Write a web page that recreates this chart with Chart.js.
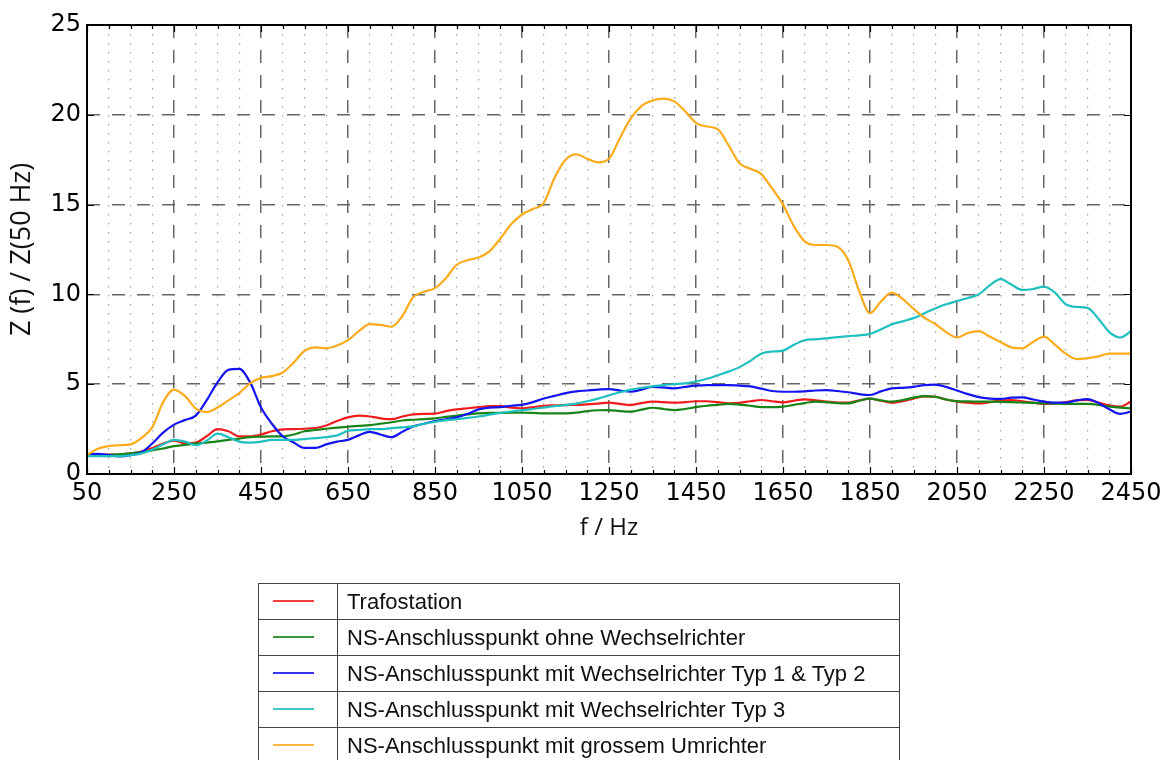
<!DOCTYPE html>
<html>
<head>
<meta charset="utf-8">
<title>Z(f) / Z(50 Hz)</title>
<script src="https://cdn.jsdelivr.net/npm/chart.js@4.4.1/dist/chart.umd.min.js"></script>
<style>
  html, body { margin: 0; padding: 0; background: #fff; }
  #wrap { position: relative; width: 1161px; height: 760px; overflow: hidden; }
  #chart { position: absolute; left: 0; top: 0; }
  #legend {
    position: absolute; left: 258px; top: 583px;
    border-collapse: collapse;
    font-family: "Liberation Sans", Arial, sans-serif; font-size: 22px; color: #111;
  }
  #legend td { border: 1px solid #444; height: 35px; padding: 0; }
  #legend td.key { width: 78px; position: relative; }
  #legend td.key span {
    position: absolute; left: 14px; top: 50%; width: 41px; height: 2.5px; margin-top: -2px; opacity: 0.85;
  }
  #legend td.name { width: 552px; padding-left: 9px; white-space: nowrap; }
</style>
</head>
<body>
<div id="wrap">
  <canvas id="chart" width="1161" height="760"></canvas>
  <table id="legend"><tbody></tbody></table>
</div>
<script>
// Frequency grid of the measurement (Hz)
const freqHz = [
  50, 75, 100, 125, 150, 175, 200, 225, 250, 275, 300, 325, 350, 375, 400, 425, 450, 475, 500, 525,
  550, 575, 600, 625, 650, 675, 700, 725, 750, 775, 800, 825, 850, 875, 900, 925, 950, 975, 1000, 1025,
  1050, 1075, 1100, 1125, 1150, 1175, 1200, 1225, 1250, 1275, 1300, 1325, 1350, 1375, 1400, 1425, 1450, 1475, 1500, 1525,
  1550, 1575, 1600, 1625, 1650, 1675, 1700, 1725, 1750, 1775, 1800, 1825, 1850, 1875, 1900, 1925, 1950, 1975, 2000, 2025,
  2050, 2075, 2100, 2125, 2150, 2175, 2200, 2225, 2250, 2275, 2300, 2325, 2350, 2375, 2400, 2425, 2450
];

// Normalised impedance Z(f)/Z(50 Hz) per measuring point
const trafostation = [
  1.05, 1.07, 1.08, 1.10, 1.15, 1.25, 1.45, 1.70, 1.85, 1.72, 1.75, 2.10, 2.50, 2.38, 2.10, 2.10, 2.20, 2.38, 2.48, 2.50,
  2.52, 2.56, 2.70, 2.95, 3.15, 3.25, 3.20, 3.10, 3.05, 3.20, 3.32, 3.35, 3.36, 3.50, 3.60, 3.66, 3.72, 3.78, 3.78, 3.70,
  3.66, 3.72, 3.80, 3.82, 3.84, 3.85, 3.88, 3.92, 3.97, 3.90, 3.84, 3.95, 4.03, 4.00, 3.97, 4.00, 4.05, 4.05, 4.00, 3.94,
  3.96, 4.05, 4.12, 4.05, 3.99, 4.08, 4.16, 4.10, 4.03, 3.98, 3.97, 4.10, 4.20, 4.08, 3.97, 4.05, 4.20, 4.32, 4.30, 4.15,
  4.03, 3.97, 3.93, 4.00, 4.10, 4.12, 4.05, 3.97, 3.90, 3.92, 4.00, 4.10, 4.12, 3.98, 3.82, 3.75, 4.03
];
const ohneWechselrichter = [
  1.05, 1.05, 1.07, 1.10, 1.15, 1.22, 1.32, 1.42, 1.55, 1.62, 1.70, 1.75, 1.82, 1.90, 1.97, 2.05, 2.08, 2.10, 2.10, 2.20,
  2.38, 2.45, 2.52, 2.58, 2.63, 2.68, 2.72, 2.80, 2.88, 2.98, 3.02, 3.06, 3.10, 3.18, 3.25, 3.32, 3.38, 3.40, 3.40, 3.41,
  3.41, 3.40, 3.38, 3.38, 3.38, 3.42, 3.50, 3.55, 3.56, 3.50, 3.47, 3.58, 3.69, 3.62, 3.56, 3.62, 3.72, 3.80, 3.85, 3.90,
  3.86, 3.80, 3.72, 3.72, 3.75, 3.85, 3.95, 4.03, 4.00, 3.95, 3.93, 4.08, 4.20, 4.10, 4.03, 4.12, 4.25, 4.34, 4.30, 4.15,
  4.06, 4.04, 4.03, 4.03, 4.02, 4.00, 3.98, 3.96, 3.93, 3.92, 3.90, 3.90, 3.90, 3.85, 3.75, 3.70, 3.66
];
const wechselrichterTyp12 = [
  1.10, 1.12, 1.05, 0.98, 1.05, 1.20, 1.70, 2.30, 2.75, 3.00, 3.25, 4.10, 5.10, 5.80, 5.85, 5.10, 3.70, 2.80, 2.10, 1.75,
  1.45, 1.45, 1.65, 1.80, 1.90, 2.15, 2.35, 2.20, 2.05, 2.35, 2.65, 2.80, 2.95, 3.05, 3.15, 3.35, 3.60, 3.70, 3.72, 3.80,
  3.85, 4.00, 4.20, 4.35, 4.50, 4.60, 4.65, 4.70, 4.73, 4.65, 4.58, 4.70, 4.85, 4.82, 4.77, 4.85, 4.92, 4.95, 4.95, 4.95,
  4.92, 4.88, 4.75, 4.62, 4.58, 4.58, 4.60, 4.65, 4.67, 4.62, 4.55, 4.45, 4.40, 4.60, 4.77, 4.80, 4.85, 4.95, 4.98, 4.85,
  4.65, 4.45, 4.28, 4.20, 4.18, 4.25, 4.27, 4.15, 4.03, 3.97, 3.97, 4.10, 4.17, 3.95, 3.60, 3.35, 3.47
];
const wechselrichterTyp3 = [
  1.00, 1.00, 1.00, 1.00, 1.05, 1.15, 1.35, 1.65, 1.90, 1.80, 1.60, 1.85, 2.25, 2.05, 1.80, 1.75, 1.80, 1.90, 1.90, 1.90,
  1.95, 2.00, 2.05, 2.15, 2.40, 2.45, 2.50, 2.50, 2.55, 2.60, 2.65, 2.80, 2.90, 3.00, 3.05, 3.12, 3.20, 3.30, 3.40, 3.48,
  3.55, 3.62, 3.70, 3.78, 3.84, 3.92, 4.05, 4.20, 4.38, 4.55, 4.70, 4.80, 4.88, 4.95, 5.00, 5.05, 5.15, 5.30, 5.50, 5.70,
  5.95, 6.30, 6.70, 6.82, 6.87, 7.20, 7.45, 7.50, 7.55, 7.62, 7.68, 7.72, 7.80, 8.05, 8.33, 8.50, 8.68, 8.95, 9.22, 9.45,
  9.63, 9.80, 10.00, 10.50, 10.85, 10.55, 10.25, 10.30, 10.43, 10.10, 9.45, 9.30, 9.25, 8.65, 7.90, 7.60, 7.95
];
const grosserUmrichter = [
  1.05, 1.40, 1.55, 1.60, 1.65, 2.00, 2.60, 4.00, 4.70, 4.35, 3.65, 3.45, 3.70, 4.10, 4.50, 5.05, 5.35, 5.45, 5.65, 6.20,
  6.85, 7.05, 7.00, 7.15, 7.45, 7.95, 8.35, 8.30, 8.20, 8.80, 9.85, 10.15, 10.35, 10.90, 11.65, 11.90, 12.05, 12.40, 13.10, 13.90,
  14.45, 14.75, 15.10, 16.50, 17.50, 17.80, 17.55, 17.35, 17.55, 18.70, 19.80, 20.50, 20.80, 20.90, 20.75, 20.20, 19.55, 19.35, 19.20, 18.30,
  17.30, 17.00, 16.70, 15.90, 15.00, 13.80, 12.95, 12.75, 12.75, 12.65, 11.90, 10.20, 8.95, 9.60, 10.10, 9.75, 9.20, 8.70, 8.35, 7.90,
  7.60, 7.85, 7.95, 7.65, 7.35, 7.05, 7.00, 7.35, 7.65, 7.20, 6.70, 6.40, 6.45, 6.55, 6.70, 6.70, 6.70
];

const seriesValues = [trafostation, ohneWechselrichter, wechselrichterTyp12, wechselrichterTyp3, grosserUmrichter];
const seriesNames = [
  'Trafostation',
  'NS-Anschlusspunkt ohne Wechselrichter',
  'NS-Anschlusspunkt mit Wechselrichter Typ 1 & Typ 2',
  'NS-Anschlusspunkt mit Wechselrichter Typ 3',
  'NS-Anschlusspunkt mit grossem Umrichter'
];
const seriesColors = ['#ee1d1d', '#188418', '#1414ee', '#1fbfbf', '#fbab1c'];

// Axis ticks
const xTickLabels = [50, 250, 450, 650, 850, 1050, 1250, 1450, 1650, 1850, 2050, 2250, 2450];
const yTickLabels = [0, 5, 10, 15, 20, 25];
const xMinorStep = 50;

const minorX = [];
for (let f = xTickLabels[0]; f <= xTickLabels[xTickLabels.length - 1]; f += xMinorStep) minorX.push(f);

// Legend table built from the series definitions
const tbody = document.querySelector('#legend tbody');
seriesNames.forEach((name, i) => {
  const tr = document.createElement('tr');
  const k = document.createElement('td');
  k.className = 'key';
  const sw = document.createElement('span');
  sw.style.background = seriesColors[i];
  k.appendChild(sw);
  const t = document.createElement('td');
  t.className = 'name';
  t.textContent = name;
  tr.appendChild(k);
  tr.appendChild(t);
  tbody.appendChild(tr);
});

// Black frame round the plot plus inward tick marks
const framePlugin = {
  id: 'frame',
  afterDraw(chart) {
    const { ctx, chartArea: a } = chart;
    const xs = chart.scales.x, ys = chart.scales.y;
    ctx.save();
    ctx.strokeStyle = '#000';
    ctx.lineWidth = 1.2;
    ctx.beginPath();
    minorX.forEach(f => {
      const px = Math.round(xs.getPixelForValue(f)) + 0.5;
      const len = xTickLabels.includes(f) ? 7 : 4;
      ctx.moveTo(px, a.bottom); ctx.lineTo(px, a.bottom - len);
      ctx.moveTo(px, a.top); ctx.lineTo(px, a.top + len);
    });
    yTickLabels.forEach(v => {
      const py = Math.round(ys.getPixelForValue(v)) + 0.5;
      ctx.moveTo(a.left, py); ctx.lineTo(a.left + 7, py);
      ctx.moveTo(a.right, py); ctx.lineTo(a.right - 7, py);
    });
    ctx.stroke();
    ctx.lineWidth = 2;
    ctx.strokeRect(a.left, a.top, a.right - a.left, a.bottom - a.top);
    ctx.restore();
  }
};

const tickFont = { family: 'DejaVu Sans', size: 24 };
const plain = v => String(v);

new Chart(document.getElementById('chart'), {
  type: 'line',
  data: {
    datasets: seriesValues.map((vals, i) => ({
      label: seriesNames[i],
      data: vals.map((v, j) => ({ x: freqHz[j], y: v })),
      borderColor: seriesColors[i],
      backgroundColor: seriesColors[i],
      borderWidth: 2.2,
      pointRadius: 0,
      cubicInterpolationMode: 'monotone',
      fill: false,
      order: seriesValues.length - i
    }))
  },
  options: {
    responsive: false,
    animation: false,
    events: [],
    layout: { padding: { left: 0, top: 25, right: 30, bottom: 215 } },
    plugins: { legend: { display: false }, tooltip: { enabled: false } },
    scales: {
      xMinor: {
        type: 'linear', position: 'top', min: 50, max: 2450,
        afterBuildTicks: s => { s.ticks = minorX.map(v => ({ value: v })); },
        ticks: { display: false },
        grid: {
          drawTicks: false, lineWidth: 1.2,
          color: c => (c.tick && xTickLabels.includes(c.tick.value)) ? 'rgba(0,0,0,0)' : '#a2a2a2'
        },
        border: { display: false, dash: [1.5, 7.5] },
        afterFit: s => { s.height = 0; s.paddingLeft = 0; s.paddingRight = 0; }
      },
      x: {
        type: 'linear', position: 'bottom', min: 50, max: 2450,
        afterBuildTicks: s => { s.ticks = xTickLabels.map(v => ({ value: v })); },
        ticks: { font: tickFont, color: '#000', padding: 5, maxRotation: 0, autoSkip: false, callback: plain },
        grid: { drawTicks: false, color: '#666', lineWidth: 1.5 },
        border: { display: false, dash: [13, 12] },
        title: { display: true, text: 'f / Hz', font: { family: 'Open Sans', size: 24 }, color: '#111', padding: { top: 0, bottom: 2 } },
        afterFit: s => { s.height = 71; s.paddingLeft = 0; s.paddingRight = 0; }
      },
      y: {
        type: 'linear', min: 0, max: 25,
        afterBuildTicks: s => { s.ticks = yTickLabels.map(v => ({ value: v })); },
        ticks: { font: tickFont, color: '#000', padding: 6, callback: plain },
        grid: { drawTicks: false, color: '#666', lineWidth: 1.5 },
        border: { display: false, dash: [13, 12] },
        title: { display: true, text: 'Z (f) / Z(50 Hz)', font: { family: 'Open Sans', size: 27 }, color: '#111', padding: { top: 6, bottom: 0 } },
        afterFit: s => { s.width = 87; s.paddingTop = 0; s.paddingBottom = 0; }
      }
    }
  },
  plugins: [framePlugin]
});
</script>
</body>
</html>
